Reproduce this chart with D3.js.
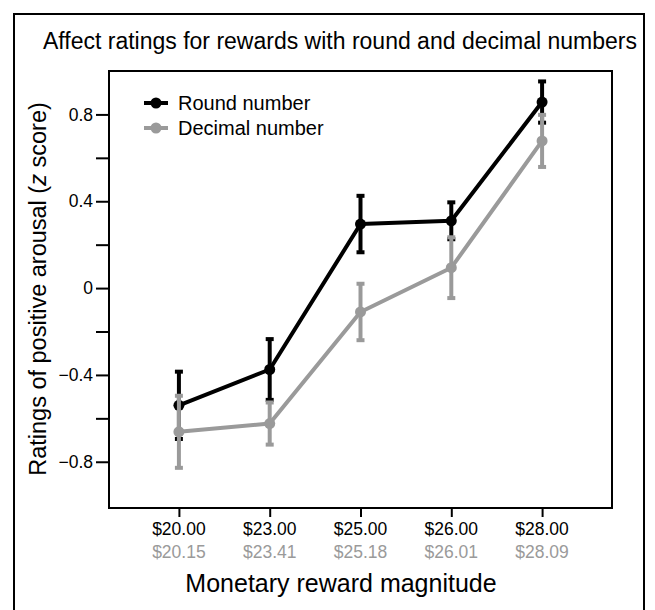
<!DOCTYPE html>
<html>
<head>
<meta charset="utf-8">
<script src="https://cdn.jsdelivr.net/npm/d3@7"></script>
<style>
  html, body { margin: 0; padding: 0; background: #fff; }
  svg { display: block; font-family: "Liberation Sans", Arial, Helvetica, sans-serif; }
</style>
</head>
<body>
<svg id="chart" width="655" height="610"></svg>
<script>
const roundLabels = ["$20.00", "$23.00", "$25.00", "$26.00", "$28.00"];
const decimalLabels = ["$20.15", "$23.41", "$25.18", "$26.01", "$28.09"];
const roundMean = [-0.54, -0.375, 0.295, 0.31, 0.857];
const roundErr = [0.155, 0.14, 0.13, 0.085, 0.095];
const decimalMean = [-0.662, -0.624, -0.11, 0.094, 0.678];
const decimalErr = [0.166, 0.097, 0.13, 0.14, 0.12];
const yTicks = [-0.8, -0.6, -0.4, -0.2, 0, 0.2, 0.4, 0.6, 0.8];
const seriesNames = ["Round number", "Decimal number"];
const seriesColors = ["#000000", "#9a9a9a"];

const svg = d3.select("#chart");
const mLeft = 109, mRight = 612, mTop = 71, mBottom = 508;

// outer border
svg.append("rect").attr("x", 14).attr("y", 14).attr("width", 630).attr("height", 620)
  .attr("fill", "none").attr("stroke", "#000").attr("stroke-width", 2);

svg.append("text").attr("x", 340).attr("y", 49).attr("text-anchor", "middle")
  .attr("font-size", 23).text("Affect ratings for rewards with round and decimal numbers");

const x = d3.scaleLinear().domain([-0.77, 4.77]).range([mLeft, mRight]);
const y = d3.scaleLinear().domain([-1.013, 1.0]).range([mBottom, mTop]);

// y axis
const yAxis = svg.append("g").attr("transform", `translate(${mLeft},0)`)
  .call(d3.axisLeft(y).tickValues(yTicks).tickSize(13).tickPadding(3)
    .tickFormat(d => (Math.abs(Math.round(d * 10)) % 4 === 0) ? (d === 0 ? "0" : d3.format(".1f")(d)) : ""));
yAxis.select(".domain").remove();
yAxis.selectAll("line").attr("stroke-width", 2);
yAxis.selectAll("text").attr("font-size", 17.5).attr("font-family", "Liberation Sans, Arial, sans-serif").attr("fill", "#000");

// x axis
const idx = d3.range(roundLabels.length);
const xAxis = svg.append("g").attr("transform", `translate(0,${mBottom})`)
  .call(d3.axisBottom(x).tickValues(idx).tickSize(9).tickFormat(() => ""));
xAxis.select(".domain").remove();
xAxis.selectAll("line").attr("stroke-width", 2);

svg.append("g").selectAll("text").data(idx).join("text")
  .attr("x", d => x(d)).attr("y", 535).attr("text-anchor", "middle")
  .attr("font-size", 17.5).attr("fill", "#000").text(d => roundLabels[d]);
svg.append("g").selectAll("text").data(idx).join("text")
  .attr("x", d => x(d)).attr("y", 558).attr("text-anchor", "middle")
  .attr("font-size", 17.5).attr("fill", "#9a9a9a").text(d => decimalLabels[d]);

svg.append("text").attr("x", 341).attr("y", 592).attr("text-anchor", "middle")
  .attr("font-size", 25).text("Monetary reward magnitude");

const yl = svg.append("text").attr("transform", "translate(46,289) rotate(-90)")
  .attr("text-anchor", "middle").attr("font-size", 23.5);
yl.append("tspan").text("Ratings of positive arousal (");
yl.append("tspan").attr("font-style", "italic").text("z");
yl.append("tspan").text(" score)");

// frame
svg.append("rect").attr("x", mLeft).attr("y", mTop).attr("width", mRight - mLeft).attr("height", mBottom - mTop)
  .attr("fill", "none").attr("stroke", "#000").attr("stroke-width", 2);

const series = [
  { mean: roundMean, err: roundErr, color: seriesColors[0] },
  { mean: decimalMean, err: decimalErr, color: seriesColors[1] }
];
const line = d3.line().x((d, i) => x(i)).y(d => y(d));

series.forEach(s => {
  const g = svg.append("g");
  const data = idx.map(i => ({ i, m: s.mean[i], e: s.err[i] }));
  g.selectAll("line.bar").data(data).join("line").attr("class", "bar")
    .attr("x1", d => x(d.i)).attr("x2", d => x(d.i))
    .attr("y1", d => y(d.m + d.e)).attr("y2", d => y(d.m - d.e))
    .attr("stroke", s.color).attr("stroke-width", 4);
  g.selectAll("line.capt").data(data).join("line").attr("class", "capt")
    .attr("x1", d => x(d.i) - 4).attr("x2", d => x(d.i) + 4)
    .attr("y1", d => y(d.m + d.e)).attr("y2", d => y(d.m + d.e))
    .attr("stroke", s.color).attr("stroke-width", 4);
  g.selectAll("line.capb").data(data).join("line").attr("class", "capb")
    .attr("x1", d => x(d.i) - 4).attr("x2", d => x(d.i) + 4)
    .attr("y1", d => y(d.m - d.e)).attr("y2", d => y(d.m - d.e))
    .attr("stroke", s.color).attr("stroke-width", 4);
  g.append("path").datum(s.mean).attr("d", line).attr("fill", "none")
    .attr("stroke", s.color).attr("stroke-width", 4).attr("stroke-linejoin", "round");
  g.selectAll("circle").data(data).join("circle")
    .attr("cx", d => x(d.i)).attr("cy", d => y(d.m)).attr("r", 5.5).attr("fill", s.color);
});

// legend
const legend = svg.append("g");
seriesNames.forEach((name, k) => {
  const ly = 103 + k * 25;
  legend.append("line").attr("x1", 144).attr("x2", 168).attr("y1", ly).attr("y2", ly)
    .attr("stroke", seriesColors[k]).attr("stroke-width", 4);
  legend.append("circle").attr("cx", 156).attr("cy", ly).attr("r", 5.5).attr("fill", seriesColors[k]);
  legend.append("text").attr("x", 178).attr("y", ly + 6.5).attr("font-size", 20).attr("fill", "#000").text(name);
});
</script>
</body>
</html>
